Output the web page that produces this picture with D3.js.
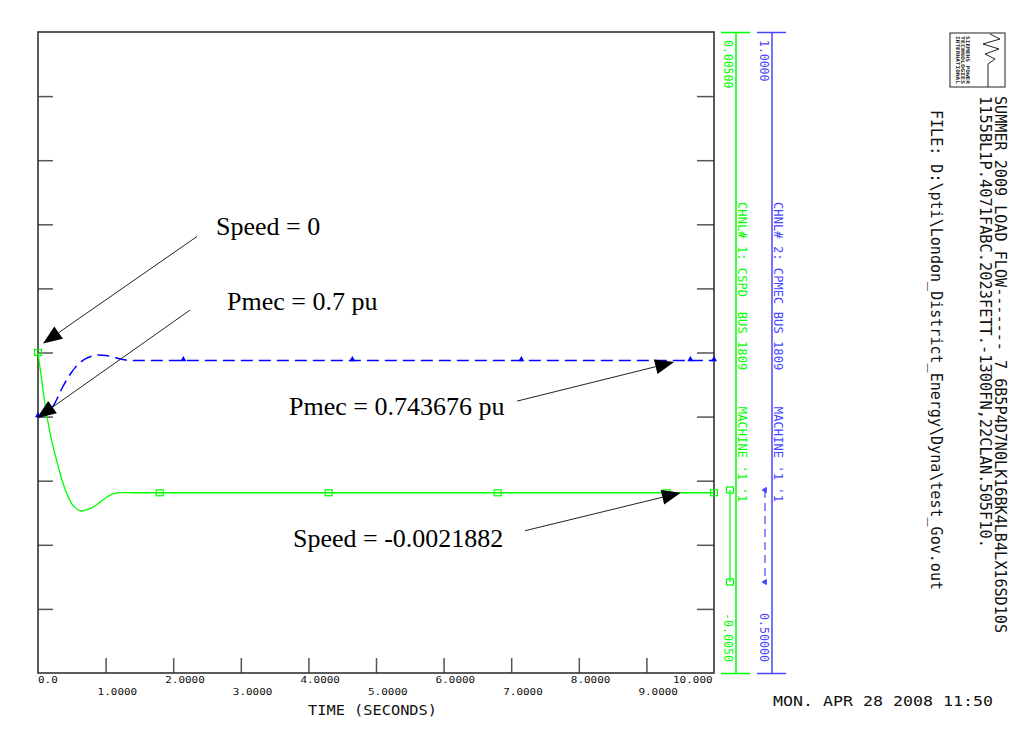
<!DOCTYPE html>
<html><head><meta charset="utf-8">
<script src="https://cdn.jsdelivr.net/npm/d3@7"></script>
<style>
html,body{margin:0;padding:0;background:#fff;}
svg{display:block;}
text{white-space:pre;}
.mono{font-family:"DejaVu Sans Mono",monospace;}
</style></head><body>
<svg id="chart" width="1035" height="750"></svg>
<script>
// Simulation output, governor test run (time in seconds)
const timeSec = [0,0.05,0.1,0.15,0.2,0.25,0.3,0.35,0.4,0.45,0.5,0.55,0.6,0.65,0.7,0.8,0.9,1.0,1.1,1.2,1.3,1.4,1.5,2,3,4,5,6,7,8,9,10];
// Channel 1: machine speed deviation (pu)
const speedDev = [0,-0.00040,-0.00078,-0.00110,-0.00136,-0.00158,-0.00178,-0.00197,-0.00213,-0.00226,-0.00236,-0.00242,-0.00246,-0.00247,-0.00246,-0.00242,-0.00235,-0.00227,-0.00221,-0.002185,-0.002186,-0.002188,-0.0021882,-0.0021882,-0.0021882,-0.0021882,-0.0021882,-0.0021882,-0.0021882,-0.0021882,-0.0021882,-0.0021882];
// Channel 2: mechanical power (pu)
const pmecPu = [0.7,0.7003,0.7012,0.7030,0.7062,0.7105,0.7160,0.7215,0.7265,0.7310,0.7348,0.7382,0.7410,0.7432,0.7450,0.7472,0.7480,0.7477,0.7466,0.7451,0.7441,0.74375,0.743676,0.743676,0.743676,0.743676,0.743676,0.743676,0.743676,0.743676,0.743676,0.743676];

// Plot symbol times for each channel
const speedSymbolTimes = [0,1.8,4.3,6.8,9.3,10];
const pmecSymbolTimes = [0,2.15,4.65,7.15,9.65,10];

// Axis text
const xTickValues = [0,1,2,3,4,5,6,7,8,9,10];
const xTickLabels = ["0.0","1.0000","2.0000","3.0000","4.0000","5.0000","6.0000","7.0000","8.0000","9.0000","10.000"];
const speedRange = [-0.005,0.005];
const speedRangeLabels = ["-0.0050","0.00500"];
const pmecRange = [0.5,1.0];
const pmecRangeLabels = ["0.50000","1.0000"];
const gridValues = [0.55,0.6,0.65,0.7,0.75,0.8,0.85,0.9,0.95];
const channelNames = ["CHNL# 1: CSPD  BUS 1809     MACHINE '1 '1","CHNL# 2: CPMEC BUS 1809     MACHINE '1 '1"];
const xTitle = "TIME (SECONDS)";
const headerLines = ["SUMMER 2009 LOAD FLOW------- 7_6B5P4D7N0LK16BK4LB4LX16SD10S","1155BL1P.4071FABC.2023FETT.-1300FN,22CLAN.505F10.","FILE: D:\\pti\\London_District_Energy\\Dyna\\test_Gov.out"];
const stampText = "MON. APR 28 2008 11:50";
const logoLines = ["SIEMENS POWER","TECHNOLOGIES","INTERNATIONAL"];

const speedFinal = speedDev[speedDev.length-1];
const pmecFinal = pmecPu[pmecPu.length-1];
const notes = [
  {text:"Speed = " + speedDev[0]},
  {text:"Pmec = " + pmecPu[0] + " pu"},
  {text:"Pmec = " + pmecFinal + " pu"},
  {text:"Speed = " + speedFinal}
];

const GREEN = "#00ff00", BLUE = "#0000ff", BLUE_AX = "#4646ff";
const svg = d3.select("#chart");
const L = 38, R = 714, T = 32, B = 673;

const x = d3.scaleLinear().domain([0,10]).range([L,R]);
const yS = d3.scaleLinear().domain(speedRange).range([B,T]);
const yP = d3.scaleLinear().domain(pmecRange).range([B,T]);

function valueAt(series, t){
  const i = d3.bisectLeft(timeSec, t);
  if (i <= 0) return series[0];
  if (i >= timeSec.length) return series[series.length-1];
  const t0 = timeSec[i-1], t1 = timeSec[i];
  const f = (t - t0)/(t1 - t0);
  return series[i-1] + f*(series[i]-series[i-1]);
}

// ticks inside the frame
function styleAxis(g){
  g.select(".domain").remove();
  g.selectAll(".tick line").attr("stroke","#555").attr("stroke-width",1.5);
  g.selectAll(".tick text").remove();
}
svg.append("g").attr("transform",`translate(0,${B})`)
  .call(d3.axisBottom(x).tickValues(xTickValues.slice(1,-1)).tickSize(-15).tickFormat(""))
  .call(styleAxis);
svg.append("g").attr("transform",`translate(${L},0)`)
  .call(d3.axisLeft(yP).tickValues(gridValues).tickSize(-15).tickFormat(""))
  .call(styleAxis);
svg.append("g").attr("transform",`translate(${R},0)`)
  .call(d3.axisRight(yP).tickValues(gridValues).tickSize(-17).tickFormat(""))
  .call(styleAxis);

// frame
svg.append("rect").attr("x",L).attr("y",T).attr("width",R-L).attr("height",B-T)
  .attr("fill","none").attr("stroke","#333").attr("stroke-width",1.6);

// x tick labels in two staggered rows
svg.append("g").selectAll("text").data(xTickValues).join("text")
  .attr("class","mono")
  .attr("x",(d,i)=> i===0 ? x(d) : (i===10 ? x(d)-41 : x(d)-8))
  .attr("y",(d,i)=> i%2===0 ? 683 : 695)
  .attr("font-size",8.5)
  .attr("textLength",(d,i)=> xTickLabels[i].length*6.6)
  .attr("lengthAdjust","spacingAndGlyphs")
  .attr("fill","#111")
  .text((d,i)=>xTickLabels[i]);

svg.append("text").attr("class","mono")
  .attr("x",308).attr("y",715).attr("font-size",13.5)
  .attr("textLength",129).attr("lengthAdjust","spacingAndGlyphs")
  .attr("fill","#111").text(xTitle);

// vertical channel axes
function channelAxis(cx, scale, color, rangeLabels, name, legendDraw){
  const g = svg.append("g");
  const [y0,y1] = [scale.range()[0], scale.range()[1]];
  g.append("line").attr("x1",cx).attr("x2",cx).attr("y1",y1).attr("y2",y0)
    .attr("stroke",color).attr("stroke-width",1.5);
  [y0,y1].forEach(yy=>{
    g.append("line").attr("x1",cx-15).attr("x2",cx+14).attr("y1",yy+0.5).attr("y2",yy+0.5)
      .attr("stroke",color).attr("stroke-width",1.5);
  });
  const rot = (tx,ty)=>`translate(${tx},${ty}) rotate(90)`;
  g.append("text").attr("class","mono").attr("transform",rot(cx-12,y1+8))
    .attr("font-size",12).attr("fill",color)
    .attr("textLength",rangeLabels[1].length*6.9).attr("lengthAdjust","spacingAndGlyphs")
    .text(rangeLabels[1]);
  g.append("text").attr("class","mono").attr("transform",rot(cx-12,y0-60))
    .attr("font-size",12).attr("fill",color)
    .attr("textLength",49).attr("lengthAdjust","spacingAndGlyphs")
    .text(rangeLabels[0]);
  g.append("text").attr("class","mono").attr("transform",rot(cx+2,202))
    .attr("font-size",12).attr("fill",color)
    .attr("textLength",300).attr("lengthAdjust","spacingAndGlyphs")
    .text(name);
  legendDraw(g, cx-6);
}

channelAxis(736, yS, GREEN, speedRangeLabels, channelNames[0], (g,lx)=>{
  g.append("line").attr("x1",lx).attr("x2",lx).attr("y1",490).attr("y2",582)
    .attr("stroke",GREEN).attr("stroke-width",1.2);
  [490,582].forEach(yy=>g.append("rect").attr("x",lx-3.5).attr("y",yy-3).attr("width",7).attr("height",6)
    .attr("fill","none").attr("stroke",GREEN).attr("stroke-width",1.2));
});
channelAxis(772, yP, BLUE_AX, pmecRangeLabels, channelNames[1], (g,lx)=>{
  lx = lx - 1;
  g.append("line").attr("x1",lx).attr("x2",lx).attr("y1",490).attr("y2",582)
    .attr("stroke",BLUE_AX).attr("stroke-width",1.2).attr("stroke-dasharray","8,5");
  [490,582].forEach(yy=>g.append("path").attr("d",d3.symbol(d3.symbolTriangle,18)())
    .attr("transform",`translate(${lx},${yy}) rotate(-90)`).attr("fill",BLUE_AX));
});

// curves
const speedLine = d3.line().x((d,i)=>x(timeSec[i])).y(d=>yS(d)).curve(d3.curveMonotoneX);
const pmecLine = d3.line().x((d,i)=>x(timeSec[i])).y(d=>yP(d)).curve(d3.curveMonotoneX);

svg.append("path").attr("d",speedLine(speedDev)).attr("fill","none")
  .attr("stroke",GREEN).attr("stroke-width",1.3);
svg.append("path").attr("d",pmecLine(pmecPu)).attr("fill","none")
  .attr("stroke",BLUE).attr("stroke-width",1.5).attr("stroke-dasharray","12,6");

svg.append("g").selectAll("rect").data(speedSymbolTimes).join("rect")
  .attr("x",t=>x(t)-3.5).attr("y",t=>yS(valueAt(speedDev,t))-3)
  .attr("width",7).attr("height",6).attr("fill","none")
  .attr("stroke",GREEN).attr("stroke-width",1.2);
svg.append("g").selectAll("path").data(pmecSymbolTimes).join("path")
  .attr("d",d3.symbol(d3.symbolTriangle,16)())
  .attr("transform",t=>`translate(${x(t)},${yP(valueAt(pmecPu,t))-1})`)
  .attr("fill",BLUE);

// annotations
function arrow(tip, tail){
  const dx = tip[0]-tail[0], dy = tip[1]-tail[1];
  const len = Math.hypot(dx,dy), ux = dx/len, uy = dy/len;
  const hl = 19, hw = 7.5;
  const bx = tip[0]-ux*hl, by = tip[1]-uy*hl;
  svg.append("line").attr("x1",tail[0]).attr("y1",tail[1]).attr("x2",bx).attr("y2",by)
    .attr("stroke","#222").attr("stroke-width",1);
  svg.append("path").attr("d",`M${tip[0]},${tip[1]}L${bx-uy*hw},${by+ux*hw}L${bx+uy*hw},${by-ux*hw}Z`)
    .attr("fill","#000");
}
const tips = [
  [x(0)+5, yS(speedDev[0])-9],
  [x(0)-1, yP(pmecPu[0])+1.5],
  [x(9.41), yP(pmecFinal)+1.5],
  [x(9.51), yS(speedFinal)]
];
const tails = [
  [tips[0][0]+154, tips[0][1]-107],
  [tips[1][0]+153, tips[1][1]-108],
  [tips[2][0]-157, tips[2][1]+39],
  [tips[3][0]-156, tips[3][1]+38]
];
const labelPos = [[216,235],[227,310],[289,415],[293,547]];
notes.forEach((n,i)=>{
  arrow(tips[i], tails[i]);
  svg.append("text").attr("x",labelPos[i][0]).attr("y",labelPos[i][1])
    .attr("font-family","'Liberation Serif','Times New Roman',serif")
    .attr("font-size",26).attr("fill","#000").text(n.text);
});

// run header, rotated
const hdr = [{x:995,y:96,len:537},{x:980,y:96,len:452},{x:931,y:110,len:480}];
headerLines.forEach((s,i)=>{
  svg.append("text").attr("class","mono")
    .attr("transform",`translate(${hdr[i].x},${hdr[i].y}) rotate(90)`)
    .attr("font-size",15).attr("fill","#111")
    .attr("textLength",hdr[i].len).attr("lengthAdjust","spacingAndGlyphs")
    .text(s);
});

// logo block
const logo = svg.append("g");
logo.append("rect").attr("x",950).attr("y",33).attr("width",55).attr("height",54)
  .attr("fill","none").attr("stroke","#222").attr("stroke-width",1);
logo.append("path")
  .attr("d","M990,34 L1000,39 L983,44 L999,49 L985,54 L995,59 L988,64 L988,87")
  .attr("fill","none").attr("stroke","#222").attr("stroke-width",1);
logoLines.forEach((s,i)=>{
  logo.append("text").attr("class","mono")
    .attr("transform",`translate(${966-i*5},36) rotate(90)`)
    .attr("font-size",5).attr("font-weight","bold").attr("fill","#222")
    .attr("textLength",48).attr("lengthAdjust","spacingAndGlyphs")
    .text(s);
});

svg.append("text").attr("class","mono")
  .attr("x",773).attr("y",706).attr("font-size",14)
  .attr("textLength",220).attr("lengthAdjust","spacingAndGlyphs")
  .attr("fill","#111").text(stampText);
</script>
</body></html>
